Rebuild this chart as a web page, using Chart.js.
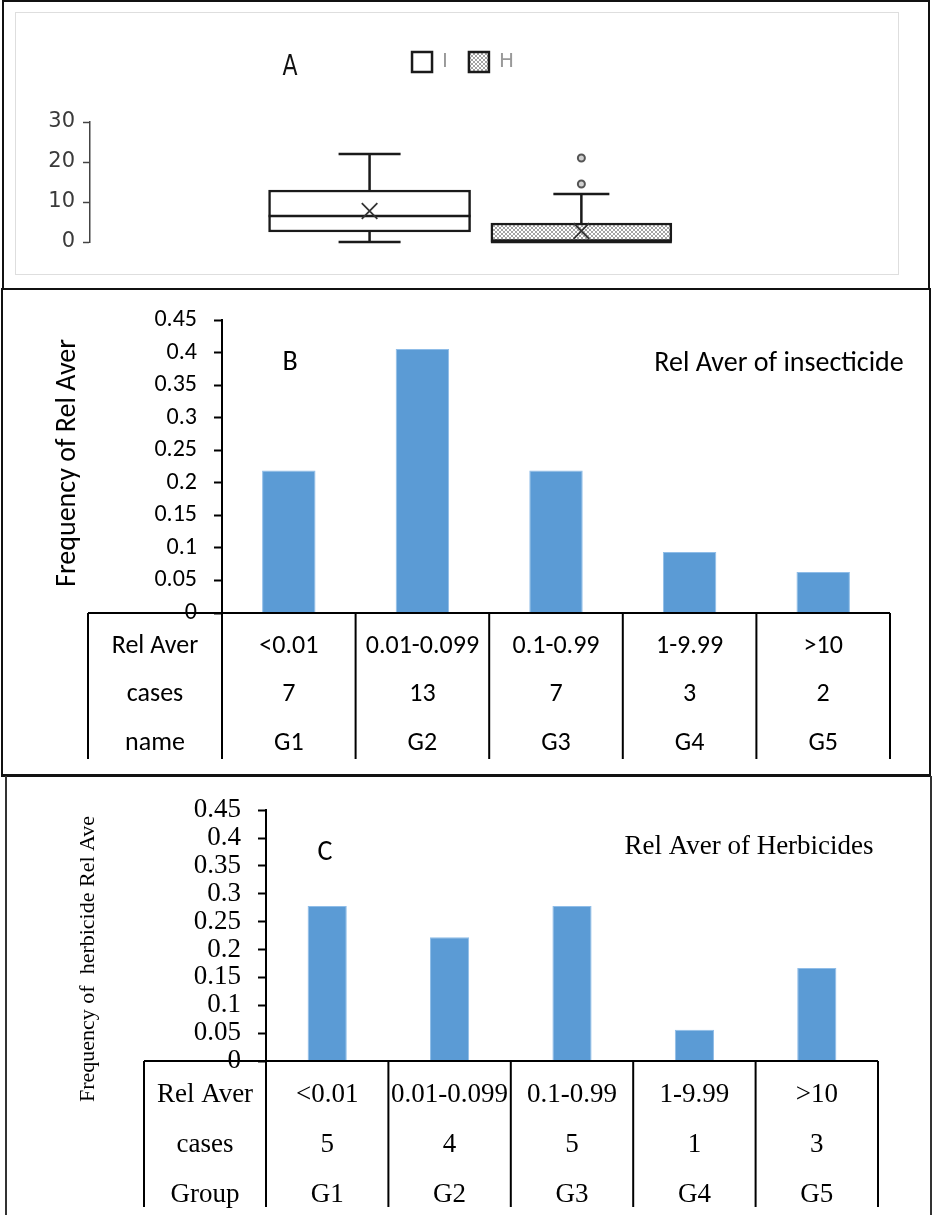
<!DOCTYPE html>
<html>
<head>
<meta charset="utf-8">
<script src="https://cdn.jsdelivr.net/npm/chart.js@4.4.1/dist/chart.umd.min.js"></script>
<style>
  body { margin: 0; background: #fff; }
  #page { position: relative; width: 932px; height: 1215px; overflow: hidden; background: #fff; }
  .frame { position: absolute; box-sizing: border-box; }
  canvas { position: absolute; left: 0; }
</style>
</head>
<body>
<div id="page">
  <div class="frame" style="left:2px;top:0;width:928px;height:290px;border:2px solid #111;"></div>
  <div class="frame" style="left:15px;top:12px;width:884px;height:263px;border:1px solid #dedede;"></div>
  <div class="frame" style="left:1px;top:288px;width:930px;height:489px;border:2px solid #111;border-bottom-width:3px;"></div>
  <div class="frame" style="left:5px;top:776px;width:927px;height:460px;border-left:2px solid #333;border-right:2px solid #333;"></div>
  <canvas id="chartA" width="932" height="288" style="top:0"></canvas>
  <canvas id="chartB" width="932" height="486" style="top:289px"></canvas>
  <canvas id="chartC" width="932" height="438" style="top:777px"></canvas>
</div>
<script>
// ---- panel A: box plot of Rel Aver values ----
const boxLabels = ["I", "H"];
const boxPos = [1, 2];
const boxMin = [0, 0];
const boxQ1 = [2.5, 0];
const boxMedian = [6.5, 0];
const boxQ3 = [13, 4.75];
const boxMax = [22, 12];
const boxMean = [7.75, 2.75];
const outliersH = [14.5, 21];
const aTicks = [0, 10, 20, 30];

// ---- panels B and C ----
const groups = ["G1", "G2", "G3", "G4", "G5"];
const relAverRanges = ["<0.01", "0.01-0.099", "0.1-0.99", "1-9.99", ">10"];
const casesInsect = [7, 13, 7, 3, 2];
const freqInsect = [0.219, 0.406, 0.219, 0.094, 0.063];
const casesHerb = [5, 4, 5, 1, 3];
const freqHerb = [0.278, 0.222, 0.278, 0.056, 0.167];
const freqTicks = [0, 0.05, 0.1, 0.15, 0.2, 0.25, 0.3, 0.35, 0.4, 0.45];
const freqTickLabels = ["0", "0.05", "0.1", "0.15", "0.2", "0.25", "0.3", "0.35", "0.4", "0.45"];

const SANS = 'Carlito, Lato, "Open Sans", sans-serif';
const SERIF = '"Liberation Serif", "DejaVu Serif", serif';
const BLUE = "#5b9bd5";

// crosshatch fill for the H box
function makeHatch() {
    let c = document.createElement("canvas");
    c.width = 4; c.height = 4;
    let g = c.getContext("2d");
    g.fillStyle = "#ffffff";
    g.fillRect(0, 0, 4, 4);
    g.fillStyle = "#a3a3a3";
    for (let i = 0; i < 4; i++) {
        g.fillRect(i, i, 1, 1);
        g.fillRect(3 - i, i, 1, 1);
    }
    return g.createPattern(c, "repeat");
}

// free text (panel letters, titles, rotated axis titles)
const extraText = {
    id: "extraText",
    afterDraw(chart, args, opts) {
        let ctx = chart.ctx;
        (opts.items || []).forEach(t => {
            ctx.save();
            ctx.font = t.font;
            ctx.fillStyle = t.color || "#000";
            ctx.textAlign = "center";
            ctx.textBaseline = "middle";
            ctx.translate(t.x, t.y);
            if (t.rotate) ctx.rotate(t.rotate);
            if (t.scaleY) ctx.scale(1, t.scaleY);
            ctx.fillText(t.text, 0, 0);
            ctx.restore();
        });
    }
};

// data table under the category axis
const catTable = {
    id: "catTable",
    afterDraw(chart, args, opts) {
        if (!opts.rows) return;
        let ctx = chart.ctx;
        let area = chart.chartArea;
        let x = chart.scales.x;
        let n = chart.data.labels.length;
        let half = (x.getPixelForValue(1) - x.getPixelForValue(0)) / 2;
        let top = area.bottom;
        let bottom = top + opts.height;
        ctx.save();
        ctx.strokeStyle = "#000";
        ctx.lineWidth = 2;
        ctx.beginPath();
        ctx.moveTo(opts.left, top);
        ctx.lineTo(x.getPixelForValue(n - 1) + half, top);
        let xs = [opts.left];
        for (let i = 0; i < n; i++) xs.push(x.getPixelForValue(i) - half);
        xs.push(x.getPixelForValue(n - 1) + half);
        xs.forEach(px => {
            ctx.moveTo(px, top);
            ctx.lineTo(px, bottom);
        });
        ctx.stroke();
        ctx.font = opts.font;
        ctx.fillStyle = "#000";
        ctx.textAlign = "center";
        ctx.textBaseline = "middle";
        opts.rows.forEach((row, r) => {
            let y = top + opts.rowY[r];
            ctx.fillText(row.title, (opts.left + area.left) / 2, y);
            row.values.forEach((v, i) => ctx.fillText(String(v), x.getPixelForValue(i), y));
        });
        ctx.restore();
    }
};

// whiskers, caps and median line of the box plot
const capWidth = [62, 56];
const boxParts = {
    id: "boxParts",
    afterDatasetDraw(chart, args) {
        if (args.meta.type !== "bar") return;
        let i = args.index;
        let bar = args.meta.data[0];
        let ctx = chart.ctx;
        let y = chart.scales.y;
        let cx = bar.x;
        let left = bar.x - bar.width / 2, right = bar.x + bar.width / 2;
        ctx.save();
        ctx.strokeStyle = "#1a1a1a";
        ctx.lineWidth = 2.5;
        ctx.beginPath();
        // upper whisker
        ctx.moveTo(cx, y.getPixelForValue(boxQ3[i]));
        ctx.lineTo(cx, y.getPixelForValue(boxMax[i]));
        ctx.moveTo(cx - capWidth[i] / 2, y.getPixelForValue(boxMax[i]));
        ctx.lineTo(cx + capWidth[i] / 2, y.getPixelForValue(boxMax[i]));
        // lower whisker
        if (boxMin[i] < boxQ1[i]) {
            ctx.moveTo(cx, y.getPixelForValue(boxQ1[i]));
            ctx.lineTo(cx, y.getPixelForValue(boxMin[i]));
            ctx.moveTo(cx - capWidth[i] / 2, y.getPixelForValue(boxMin[i]));
            ctx.lineTo(cx + capWidth[i] / 2, y.getPixelForValue(boxMin[i]));
        }
        // median
        ctx.moveTo(left, y.getPixelForValue(boxMedian[i]));
        ctx.lineTo(right, y.getPixelForValue(boxMedian[i]));
        ctx.stroke();
        ctx.restore();
    }
};

Chart.register(extraText, catTable);

// ---------- chart A ----------
let hatch = makeHatch();
new Chart(document.getElementById("chartA"), {
    type: "bar",
    data: {
        datasets: [
            {
                label: boxLabels[0],
                data: [{ x: boxPos[0], y: [boxQ1[0], boxQ3[0]] }],
                backgroundColor: "#ffffff",
                borderColor: "#1a1a1a",
                borderWidth: 2.5,
                borderSkipped: false,
                barThickness: 202,
                grouped: false,
                order: 3
            },
            {
                label: boxLabels[1],
                data: [{ x: boxPos[1], y: [boxQ1[1], boxQ3[1]] }],
                backgroundColor: hatch,
                borderColor: "#1a1a1a",
                borderWidth: 2.5,
                borderSkipped: false,
                barThickness: 181,
                grouped: false,
                order: 3
            },
            {
                type: "line",
                label: "mean",
                data: boxPos.map((p, i) => ({ x: p, y: boxMean[i] })),
                showLine: false,
                pointStyle: "crossRot",
                pointRadius: 11,
                borderColor: "#333",
                borderWidth: 1.8,
                order: 1
            },
            {
                type: "line",
                label: "outliers",
                data: outliersH.map(v => ({ x: boxPos[1], y: v })),
                showLine: false,
                pointStyle: "circle",
                pointRadius: 3.5,
                backgroundColor: "#d0d0d0",
                borderColor: "#555",
                borderWidth: 2,
                order: 1
            }
        ]
    },
    plugins: [boxParts],
    options: {
        responsive: false,
        animation: false,
        layout: { padding: { top: 31, bottom: 46, left: 46, right: 52 } },
        plugins: {
            tooltip: { enabled: false },
            legend: {
                display: true,
                position: "top",
                align: "center",
                labels: {
                    boxWidth: 20,
                    boxHeight: 20,
                    padding: 21,
                    color: "#999",
                    font: { family: "DejaVu Sans", size: 20 },
                    filter: item => item.datasetIndex < 2
                }
            },
            extraText: {
                items: [{ text: "A", x: 290, y: 68, font: '22px "DejaVu Sans"', color: "#111", scaleY: 1.3 }]
            }
        },
        scales: {
            x: {
                type: "linear",
                position: "top",
                min: -0.32,
                max: 3.41,
                offset: false,
                grid: { display: false },
                border: { display: false },
                ticks: { display: false },
                afterFit: s => { s.height = 40; }
            },
            y: {
                min: 0,
                max: 30,
                afterBuildTicks: s => { s.ticks = aTicks.map(v => ({ value: v })); },
                ticks: { color: "#3a3a3a", font: { family: "DejaVu Sans", size: 21 }, padding: 8 },
                grid: { drawOnChartArea: false, tickLength: 7, tickColor: "#444", tickWidth: 1.5 },
                border: { color: "#444", width: 1.5 },
                afterFit: s => { s.width = 44; }
            }
        }
    }
});

// ---------- chart B ----------
new Chart(document.getElementById("chartB"), {
    type: "bar",
    data: {
        labels: groups,
        datasets: [{
            data: freqInsect,
            backgroundColor: BLUE,
            borderColor: "#8fbde8",
            borderWidth: 1,
            barPercentage: 0.4,
            categoryPercentage: 1
        }]
    },
    options: {
        responsive: false,
        animation: false,
        layout: { padding: { top: 25, right: 42, bottom: 0, left: 0 } },
        plugins: {
            legend: { display: false },
            tooltip: { enabled: false },
            extraText: {
                items: [
                    { text: "B", x: 290, y: 74, font: "28px " + SANS },
                    { text: "Rel Aver of insecticide", x: 779, y: 75, font: "28px " + SANS },
                    { text: "Frequency of Rel Aver", x: 68, y: 174, font: "28px " + SANS, rotate: -Math.PI / 2 }
                ]
            },
            catTable: {
                left: 88,
                height: 146,
                rowY: [33, 81, 130],
                font: "26px " + SANS,
                rows: [
                    { title: "Rel Aver", values: relAverRanges },
                    { title: "cases", values: casesInsect },
                    { title: "name", values: groups }
                ]
            }
        },
        scales: {
            x: {
                grid: { display: false },
                border: { display: false },
                ticks: { display: false },
                afterFit: s => { s.height = 162; }
            },
            y: {
                min: 0,
                max: 0.45,
                afterBuildTicks: s => { s.ticks = freqTicks.map(v => ({ value: v })); },
                ticks: {
                    autoSkip: false,
                    color: "#000",
                    padding: 17,
                    font: { family: SANS, size: 24 },
                    callback: (v, i) => freqTickLabels[i]
                },
                grid: { drawOnChartArea: false, tickLength: 8, tickColor: "#000", tickWidth: 2 },
                border: { color: "#000", width: 2 },
                afterFit: s => { s.width = 222; }
            }
        }
    }
});

// ---------- chart C ----------
new Chart(document.getElementById("chartC"), {
    type: "bar",
    data: {
        labels: groups,
        datasets: [{
            data: freqHerb,
            backgroundColor: BLUE,
            borderColor: "#8fbde8",
            borderWidth: 1,
            barPercentage: 0.32,
            categoryPercentage: 1
        }]
    },
    options: {
        responsive: false,
        animation: false,
        layout: { padding: { top: 30, right: 54, bottom: 0, left: 0 } },
        plugins: {
            legend: { display: false },
            tooltip: { enabled: false },
            extraText: {
                items: [
                    { text: "C", x: 325, y: 76, font: "28px " + SANS },
                    { text: "Rel Aver of Herbicides", x: 749, y: 70, font: "27px " + SERIF },
                    { text: "Frequency of  herbicide Rel Ave", x: 88, y: 182, font: "22px " + SERIF, rotate: -Math.PI / 2 }
                ]
            },
            catTable: {
                left: 144,
                height: 146,
                rowY: [34, 84, 134],
                font: "27px " + SERIF,
                rows: [
                    { title: "Rel Aver", values: relAverRanges },
                    { title: "cases", values: casesHerb },
                    { title: "Group", values: groups }
                ]
            }
        },
        scales: {
            x: {
                grid: { display: false },
                border: { display: false },
                ticks: { display: false },
                afterFit: s => { s.height = 154; }
            },
            y: {
                min: 0,
                max: 0.45,
                afterBuildTicks: s => { s.ticks = freqTicks.map(v => ({ value: v })); },
                ticks: {
                    autoSkip: false,
                    color: "#000",
                    padding: 17,
                    font: { family: SERIF, size: 27 },
                    callback: (v, i) => freqTickLabels[i]
                },
                grid: { drawOnChartArea: false, tickLength: 8, tickColor: "#000", tickWidth: 2 },
                border: { color: "#000", width: 2 },
                afterFit: s => { s.width = 266; }
            }
        }
    }
});
</script>
</body>
</html>
